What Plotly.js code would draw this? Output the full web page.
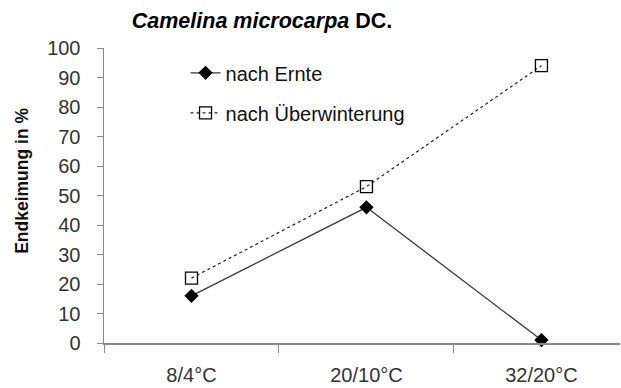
<!DOCTYPE html>
<html>
<head>
<meta charset="utf-8">
<script src="https://cdn.plot.ly/plotly-3.0.1.min.js"></script>
<style>html,body{margin:0;padding:0;background:#fff;overflow:hidden}</style>
</head>
<body>
<div id="chart" style="width:621px;height:388px"></div>
<script>
const categories = ["8/4°C", "20/10°C", "32/20°C"];
const nachErnte = [16, 46, 1];
const nachUeberwinterung = [22, 53, 94];
const yTicks = [0, 10, 20, 30, 40, 50, 60, 70, 80, 90, 100];
const seriesNames = ["nach Ernte", "nach Überwinterung"];

const FONT = "Arial, 'Liberation Sans', sans-serif";

const traces = [
  {
    x: categories, y: nachErnte, name: seriesNames[0], type: "scatter", mode: "lines+markers",
    line: {color: "#3a3a3a", width: 1.3},
    marker: {symbol: "diamond", size: 11, color: "#000", line: {color: "#000", width: 0}},
    legendgroup: "a", cliponaxis: false
  },
  {
    x: categories, y: nachUeberwinterung, name: seriesNames[1], type: "scatter", mode: "lines+markers",
    line: {color: "#222", width: 1.2, dash: "dot"},
    marker: {symbol: "square-open", size: 12, color: "#000", line: {color: "#000", width: 1.3}},
    legendgroup: "b", cliponaxis: false
  }
];

const layout = {
  width: 621, height: 388,
  margin: {l: 104, r: 1, t: 48, b: 45, pad: 0},
  paper_bgcolor: "#fff", plot_bgcolor: "#fff",
  font: {family: FONT, size: 20, color: "#333"},
  title: {
    text: "<i>Camelina microcarpa</i> DC.",
    x: 262/621, xanchor: "center", xref: "container",
    y: 1 - 20/388, yanchor: "middle", yref: "container",
    font: {family: FONT, size: 21.5, color: "#000", weight: 700}
  },
  xaxis: {
    type: "category", categoryarray: categories, range: [-0.5, 2.449],
    showline: true, linecolor: "#8a8a8a", linewidth: 1.5,
    ticks: "outside", tickson: "boundaries", ticklen: 8, tickcolor: "#8a8a8a", tickwidth: 1,
    showgrid: false, zeroline: false,
    tickfont: {family: FONT, size: 20, color: "#333"},
    ticklabelstandoff: 13
  },
  yaxis: {
    range: [0, 100], tickvals: yTicks, ticktext: yTicks.map(String),
    showline: true, linecolor: "#8a8a8a", linewidth: 1.5,
    ticks: "outside", ticklen: 6, tickcolor: "#8a8a8a", tickwidth: 1,
    showgrid: false, zeroline: false,
    tickfont: {family: FONT, size: 20, color: "#333"},
    ticklabelstandoff: 12,
    title: {text: "&nbsp;&nbsp;&nbsp;&nbsp;&nbsp;&nbsp;Endkeimung in %", standoff: 14,
      font: {family: FONT, size: 17.5, color: "#111", weight: 700}}
  },
  showlegend: true,
  legend: {
    x: 0.158, xanchor: "left", y: 0.982, yanchor: "top",
    bgcolor: "rgba(0,0,0,0)", borderwidth: 0,
    font: {family: FONT, size: 20, color: "#111"},
    tracegroupgap: 11, itemwidth: 30
  }
};

Plotly.newPlot("chart", traces, layout, {staticPlot: true, displayModeBar: false});
</script>
</body>
</html>
